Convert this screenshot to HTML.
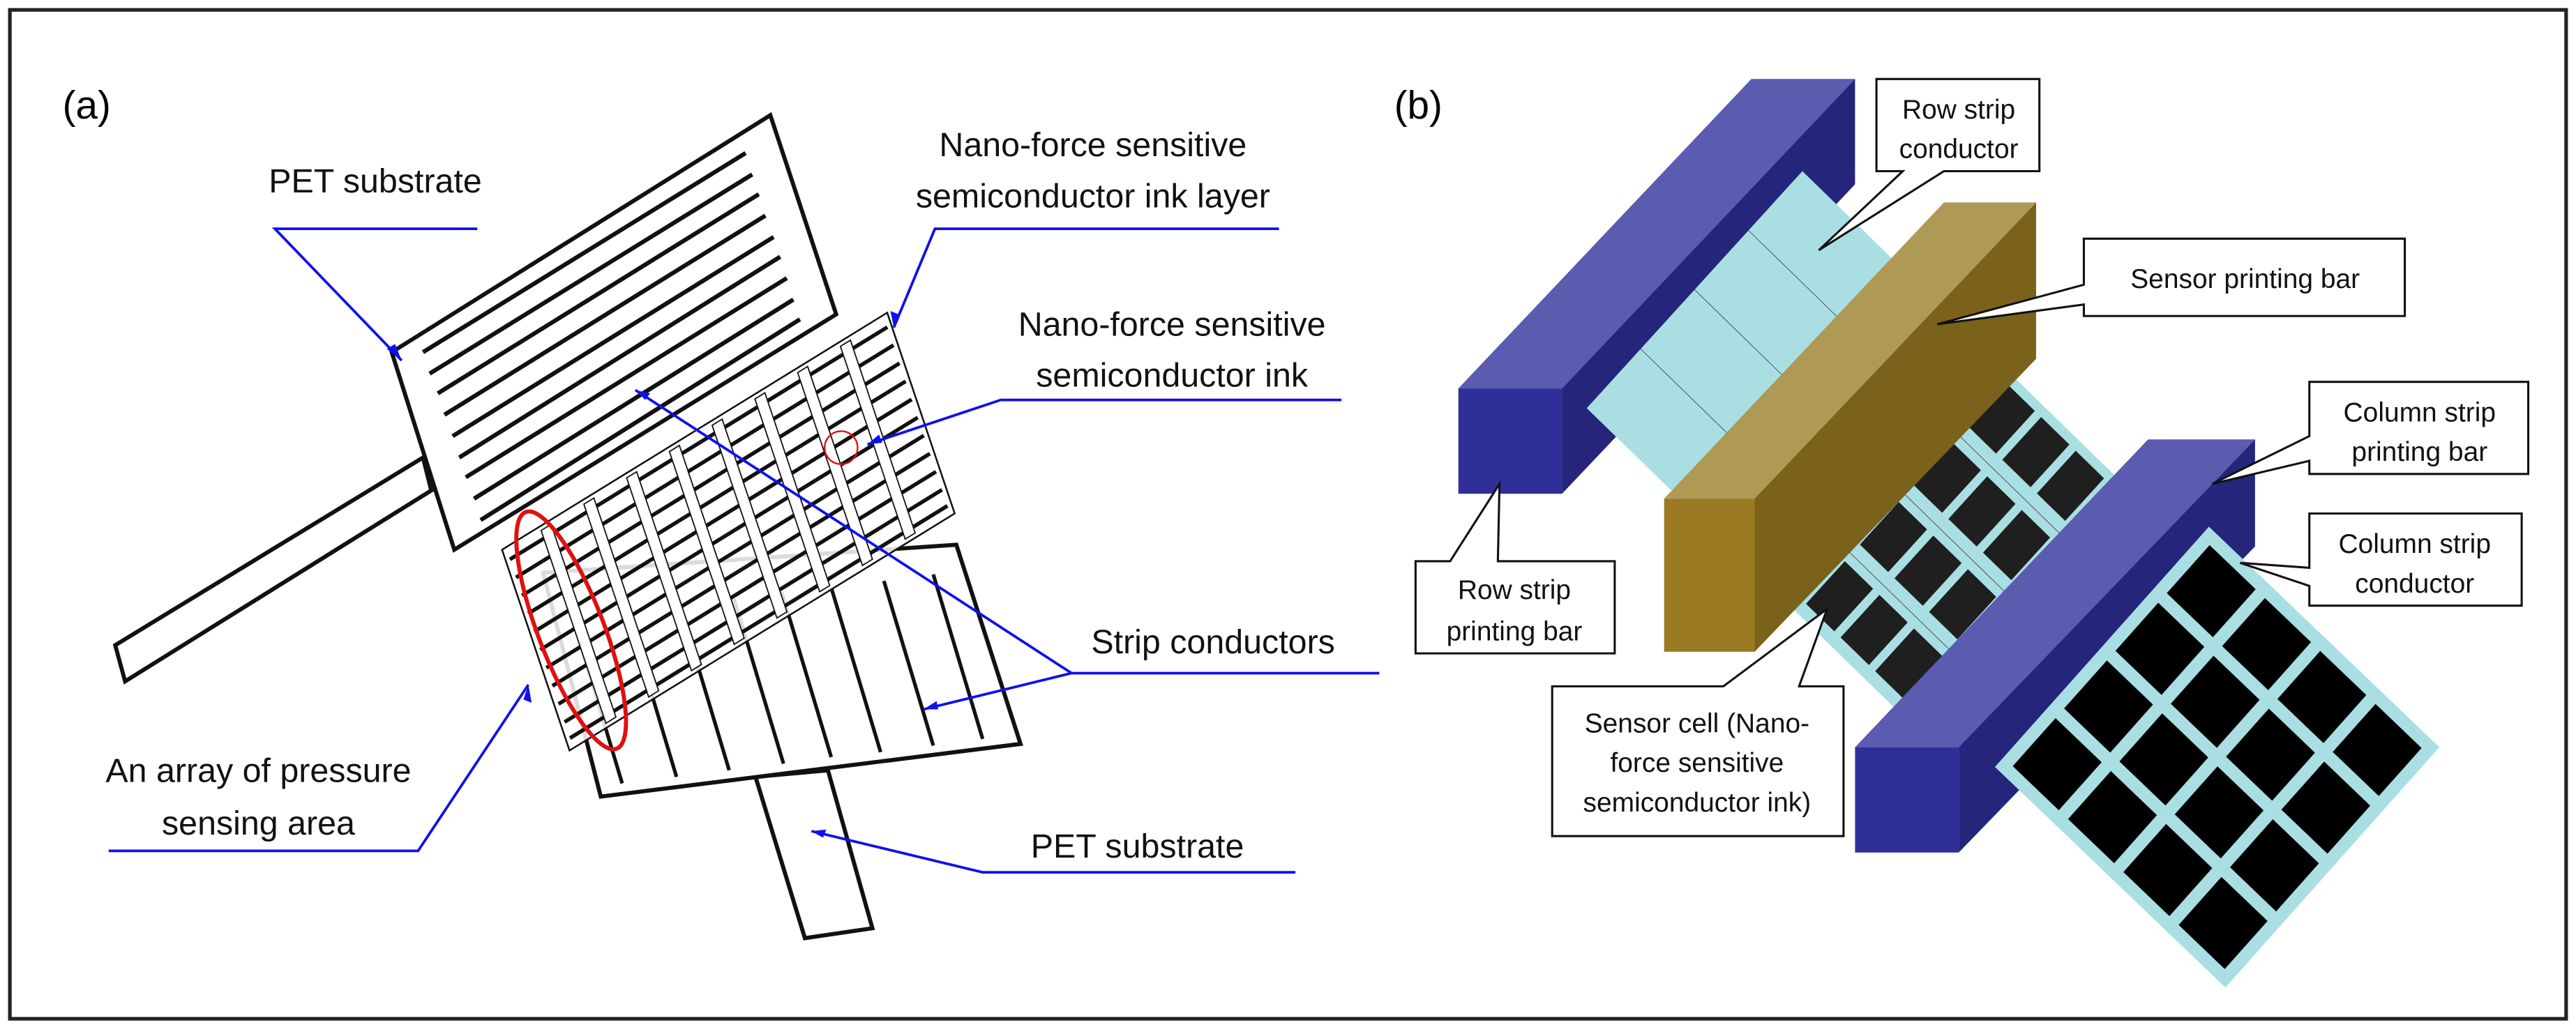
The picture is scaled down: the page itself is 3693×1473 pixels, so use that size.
<!DOCTYPE html>
<html><head><meta charset="utf-8"><style>
html,body{margin:0;padding:0;background:#fff;}
svg{display:block;}
text{font-family:"Liberation Sans",Arial,sans-serif;}
</style></head><body>
<svg width="3693" height="1473" viewBox="0 0 1565 624" preserveAspectRatio="none" xmlns="http://www.w3.org/2000/svg">
<rect x="0" y="0" width="1565" height="624" fill="#fff"/>
<rect x="6" y="6" width="1553" height="613" fill="none" stroke="#222" stroke-width="2.2"/>
<text x="38" y="72" font-size="24">(a)</text>
<text x="847" y="72" font-size="24">(b)</text>

<!-- PANEL A -->
<polygon points="459,472 503,468 530,564 489,570" fill="#fff" stroke="#111" stroke-width="2.5"/>
<polygon points="330,348 581,331 620,452 365,484" fill="#fff" stroke="#111" stroke-width="2.5"/>
<g stroke="#111" stroke-width="2.2">
<line x1="378" y1="476" x2="348" y2="376"/><line x1="411" y1="472" x2="381" y2="372"/>
<line x1="443" y1="468" x2="413" y2="368"/><line x1="476" y1="464" x2="446" y2="364"/>
<line x1="505" y1="460" x2="475" y2="360"/><line x1="535" y1="457" x2="505" y2="357"/>
<line x1="567" y1="453" x2="537" y2="353"/><line x1="597" y1="449" x2="567" y2="349"/>
</g>
<g transform="matrix(234,-144,41,122,305,334)">
<rect x="0" y="0" width="1" height="1" fill="#fff" fill-opacity="0.85" stroke="#111" stroke-width="2.5" vector-effect="non-scaling-stroke"/>
<g stroke="#111" stroke-width="5.5">
<line x1="0.01" y1="0.06" x2="0.99" y2="0.06" vector-effect="non-scaling-stroke"/>
<line x1="0.01" y1="0.15" x2="0.99" y2="0.15" vector-effect="non-scaling-stroke"/>
<line x1="0.01" y1="0.24" x2="0.99" y2="0.24" vector-effect="non-scaling-stroke"/>
<line x1="0.01" y1="0.33" x2="0.99" y2="0.33" vector-effect="non-scaling-stroke"/>
<line x1="0.01" y1="0.42" x2="0.99" y2="0.42" vector-effect="non-scaling-stroke"/>
<line x1="0.01" y1="0.51" x2="0.99" y2="0.51" vector-effect="non-scaling-stroke"/>
<line x1="0.01" y1="0.60" x2="0.99" y2="0.60" vector-effect="non-scaling-stroke"/>
<line x1="0.01" y1="0.69" x2="0.99" y2="0.69" vector-effect="non-scaling-stroke"/>
<line x1="0.01" y1="0.78" x2="0.99" y2="0.78" vector-effect="non-scaling-stroke"/>
<line x1="0.01" y1="0.87" x2="0.99" y2="0.87" vector-effect="non-scaling-stroke"/>
<line x1="0.01" y1="0.95" x2="0.99" y2="0.95" vector-effect="non-scaling-stroke"/>
</g>
<g fill="#fff" stroke="#111" stroke-width="1.8">
<rect x="0.098" y="0.02" width="0.026" height="0.96" vector-effect="non-scaling-stroke"/>
<rect x="0.209" y="0.02" width="0.026" height="0.96" vector-effect="non-scaling-stroke"/>
<rect x="0.320" y="0.02" width="0.026" height="0.96" vector-effect="non-scaling-stroke"/>
<rect x="0.431" y="0.02" width="0.026" height="0.96" vector-effect="non-scaling-stroke"/>
<rect x="0.542" y="0.02" width="0.026" height="0.96" vector-effect="non-scaling-stroke"/>
<rect x="0.653" y="0.02" width="0.026" height="0.96" vector-effect="non-scaling-stroke"/>
<rect x="0.764" y="0.02" width="0.026" height="0.96" vector-effect="non-scaling-stroke"/>
<rect x="0.875" y="0.02" width="0.026" height="0.96" vector-effect="non-scaling-stroke"/>
</g>
</g>
<polygon points="70,392 257,278 262,298 76,414" fill="#fff" stroke="#111" stroke-width="2.5"/>
<polygon points="238,214 468,70 508,191 276,334" fill="#fff" stroke="#111" stroke-width="2.5"/>
<g stroke="#111" stroke-width="2.6">
<line x1="257" y1="214" x2="453" y2="93"/><line x1="261" y1="227" x2="457" y2="106"/>
<line x1="266" y1="239" x2="461" y2="118"/><line x1="270" y1="252" x2="465" y2="131"/>
<line x1="275" y1="265" x2="470" y2="144"/><line x1="279" y1="278" x2="474" y2="156"/>
<line x1="283" y1="290" x2="478" y2="169"/><line x1="288" y1="303" x2="482" y2="182"/>
<line x1="292" y1="316" x2="486" y2="194"/>
</g>
<ellipse cx="347" cy="383" rx="20" ry="77" transform="rotate(-21 347 383)" fill="none" stroke="#e01010" stroke-width="2.5"/>
<circle cx="511" cy="272" r="10" fill="none" stroke="#e01010" stroke-width="1"/>

<g stroke="#1010ee" stroke-width="1.6" fill="none">
<polyline points="290,139 167,139 244,219"/>
<polyline points="777,139 568,139 543,199"/>
<polyline points="815,243 608,243 527,270"/>
<polyline points="838,409 651,409 386,237"/>
<line x1="651" y1="409" x2="561" y2="431"/>
<polyline points="66,517 254,517 321,416"/>
<polyline points="787,530 597,530 493,505"/>
</g>
<g fill="#1010ee">
<polygon points="244,219 235,212 240,209"/>
<polygon points="543,199 541,189 546,191"/>
<polygon points="527,270 534,264 536,269"/>
<polygon points="386,237 395,239 392,243"/>
<polygon points="561,431 569,426 570,431"/>
<polygon points="321,416 318,425 323,427"/>
<polygon points="493,505 502,504 500,509"/>
</g>
<g font-size="20.5" fill="#111" text-anchor="middle">
<text x="228" y="117">PET substrate</text>
<text x="664" y="95">Nano-force sensitive</text>
<text x="664" y="126">semiconductor ink layer</text>
<text x="712" y="204">Nano-force sensitive</text>
<text x="712" y="235">semiconductor ink</text>
<text x="737" y="397">Strip conductors</text>
<text x="157" y="475">An array of pressure</text>
<text x="157" y="507">sensing area</text>
<text x="691" y="521">PET substrate</text>
</g>

<!-- PANEL B -->
<polygon points="886,236 1064,48 1127,48 949,236" fill="#5b5bb0"/>
<polygon points="949,236 1127,48 1127,112 949,300" fill="#25257c"/>
<rect x="886" y="236" width="63" height="64" fill="#2f2f9a"/>
<g transform="matrix(131,-144,191,186,964,248)">
<rect x="0" y="0" width="1" height="1" fill="#a9dfe3"/>
<g stroke="#334" stroke-width="0.8">
<line x1="0.25" y1="0" x2="0.25" y2="1" vector-effect="non-scaling-stroke"/>
<line x1="0.5" y1="0" x2="0.5" y2="1" vector-effect="non-scaling-stroke"/>
<line x1="0.75" y1="0" x2="0.75" y2="1" vector-effect="non-scaling-stroke"/>
</g>
<g fill="#1f1f1f">
<rect x="0.04" y="0.56" width="0.18" height="0.09"/><rect x="0.29" y="0.56" width="0.18" height="0.09"/><rect x="0.54" y="0.56" width="0.18" height="0.09"/><rect x="0.79" y="0.56" width="0.18" height="0.09"/>
<rect x="0.04" y="0.67" width="0.18" height="0.09"/><rect x="0.29" y="0.67" width="0.18" height="0.09"/><rect x="0.54" y="0.67" width="0.18" height="0.09"/><rect x="0.79" y="0.67" width="0.18" height="0.09"/>
<rect x="0.04" y="0.78" width="0.18" height="0.09"/><rect x="0.29" y="0.78" width="0.18" height="0.09"/><rect x="0.54" y="0.78" width="0.18" height="0.09"/><rect x="0.79" y="0.78" width="0.18" height="0.09"/>
<rect x="0.04" y="0.89" width="0.18" height="0.09"/><rect x="0.29" y="0.89" width="0.18" height="0.09"/><rect x="0.54" y="0.89" width="0.18" height="0.09"/><rect x="0.79" y="0.89" width="0.18" height="0.09"/>
</g>
</g>
<polygon points="1011,303 1181,123 1237,123 1066,303" fill="#ae9a55"/>
<polygon points="1066,303 1237,123 1237,218 1066,396" fill="#7a621a"/>
<rect x="1011" y="303" width="55" height="93" fill="#9a7a22"/>
<polygon points="1127,454 1305,267 1370,267 1190,454" fill="#5b5bb0"/>
<polygon points="1190,454 1370,267 1370,332 1190,518" fill="#25257c"/>
<rect x="1127" y="454" width="63" height="64" fill="#2f2f9a"/>
<g transform="matrix(130,-146,140,134,1212,466)">
<rect x="0" y="0" width="1" height="1" fill="#a9dfe3"/>
<g fill="#000">
<rect x="0.04" y="0.04" width="0.2" height="0.2"/><rect x="0.28" y="0.04" width="0.2" height="0.2"/><rect x="0.52" y="0.04" width="0.2" height="0.2"/><rect x="0.76" y="0.04" width="0.2" height="0.2"/>
<rect x="0.04" y="0.28" width="0.2" height="0.2"/><rect x="0.28" y="0.28" width="0.2" height="0.2"/><rect x="0.52" y="0.28" width="0.2" height="0.2"/><rect x="0.76" y="0.28" width="0.2" height="0.2"/>
<rect x="0.04" y="0.52" width="0.2" height="0.2"/><rect x="0.28" y="0.52" width="0.2" height="0.2"/><rect x="0.52" y="0.52" width="0.2" height="0.2"/><rect x="0.76" y="0.52" width="0.2" height="0.2"/>
<rect x="0.04" y="0.76" width="0.2" height="0.2"/><rect x="0.28" y="0.76" width="0.2" height="0.2"/><rect x="0.52" y="0.76" width="0.2" height="0.2"/><rect x="0.76" y="0.76" width="0.2" height="0.2"/>
</g>
</g>

<g fill="#fff" stroke="#111" stroke-width="1.3">
<polygon points="1140,48 1239,48 1239,104 1181,104 1105,152 1156,104 1140,104"/>
<polygon points="1266,145 1461,145 1461,192 1266,192 1266,185 1177,197 1266,173"/>
<polygon points="1403,232 1536,232 1536,288 1403,288 1403,280 1344,294 1403,265"/>
<polygon points="1403,312 1532,312 1532,368 1403,368 1403,356 1361,342 1403,345"/>
<polygon points="860,341 881,341 911,294 910,341 981,341 981,397 860,397"/>
<polygon points="943,417 1047,417 1110,370 1093,417 1120,417 1120,508 943,508"/>
</g>
<g font-size="16.5" fill="#111" text-anchor="middle">
<text x="1190" y="72">Row strip</text>
<text x="1190" y="96">conductor</text>
<text x="1364" y="175">Sensor printing bar</text>
<text x="1470" y="256">Column strip</text>
<text x="1470" y="280">printing bar</text>
<text x="1467" y="336">Column strip</text>
<text x="1467" y="360">conductor</text>
<text x="920" y="364">Row strip</text>
<text x="920" y="389">printing bar</text>
<text x="1031" y="445">Sensor cell (Nano-</text>
<text x="1031" y="469">force sensitive</text>
<text x="1031" y="493">semiconductor ink)</text>
</g>
</svg>
</body></html>
